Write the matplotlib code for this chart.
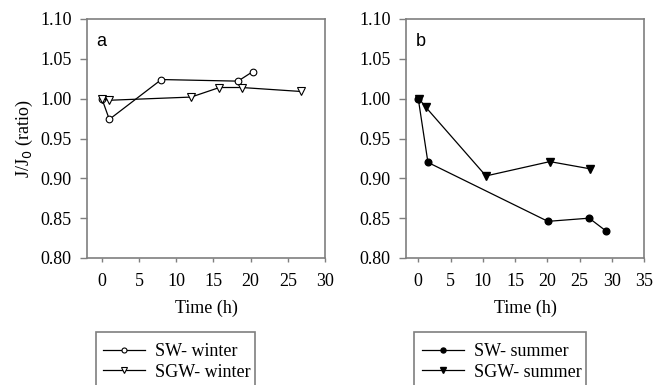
import matplotlib
matplotlib.use("Agg")
import matplotlib.pyplot as plt
from matplotlib.patches import Rectangle

# Data
sw_winter_t = [0, 1, 8, 18.3, 20.3]
sw_winter_y = [1.000, 0.974, 1.024, 1.022, 1.034]
sgw_winter_t = [0, 1, 12, 15.8, 18.8, 26.8]
sgw_winter_y = [1.000, 0.998, 1.002, 1.014, 1.014, 1.009]

sw_summer_t = [0, 1.5, 20.1, 26.5, 29.1]
sw_summer_y = [1.000, 0.920, 0.846, 0.850, 0.834]
sgw_summer_t = [0.1, 1.2, 10.5, 20.4, 26.6]
sgw_summer_y = [1.000, 0.989, 0.903, 0.921, 0.912]

yticks = [0.80, 0.85, 0.90, 0.95, 1.00, 1.05, 1.10]
xticks_a = [0, 5, 10, 15, 20, 25, 30]
xticks_b = [0, 5, 10, 15, 20, 25, 30, 35]

W, H = 654, 385
fig = plt.figure(figsize=(W/100, H/100), dpi=100)
serif = "Liberation Serif"
sans = "Liberation Sans"
spine_col = "#7f7f7f"
fs = 13

def px_axes(l, t, r, b):
    return fig.add_axes([l/W, 1-b/H, (r-l)/W, (b-t)/H])

ax1 = px_axes(87, 19, 325, 258)
ax2 = px_axes(406, 19, 644, 258)

def style(ax, xlim, xticks, letter):
    ax.set_xlim(*xlim)
    ax.set_ylim(0.80, 1.10)
    ax.set_xticks(xticks)
    ax.set_yticks(yticks)
    ax.set_yticklabels([f"{v:.2f}" for v in yticks])
    for s in ax.spines.values():
        s.set_color(spine_col)
        s.set_linewidth(1.2)
    ax.tick_params(axis="y", direction="out", length=5, width=1, color=spine_col,
                   labelsize=fs, pad=6)
    ax.tick_params(axis="x", direction="out", length=3, width=1, color=spine_col,
                   labelsize=fs, pad=8)
    for lab in ax.get_xticklabels() + ax.get_yticklabels():
        lab.set_fontfamily(serif)
    ax.text(0.04, 0.905, letter, transform=ax.transAxes, fontsize=fs,
            fontfamily=sans, va="center", ha="left")
    ax.set_xlabel("Time (h)", fontsize=fs, fontfamily=serif, labelpad=7)

style(ax1, (-2, 30), xticks_a, "a")
style(ax2, (-1.9, 35), xticks_b, "b")
ax1.set_ylabel("J/J$_0$ (ratio)", fontsize=fs, fontfamily=serif, labelpad=4)

lw = 0.9
l1, = ax1.plot(sw_winter_t, sw_winter_y, color="black", lw=lw, marker="o",
               ms=4.8, mfc="white", mec="black", mew=0.8, label="SW- winter")
l2, = ax1.plot(sgw_winter_t, sgw_winter_y, color="black", lw=lw, marker="v",
               ms=5.5, mfc="white", mec="black", mew=0.8, label="SGW- winter")
l3, = ax2.plot(sw_summer_t, sw_summer_y, color="black", lw=lw, marker="o",
               ms=4.8, mfc="black", mec="black", label="SW- summer")
l4, = ax2.plot(sgw_summer_t, sgw_summer_y, color="black", lw=lw, marker="v",
               ms=5.5, mfc="black", mec="black", label="SGW- summer")

# legend boxes (extend below the figure edge)
for (x0, x1) in [(96, 255), (414, 586)]:
    fig.patches.append(Rectangle((x0/W, -0.05), (x1-x0)/W, 0.05 + 1-332/H,
                                 transform=fig.transFigure, fill=False,
                                 edgecolor=spine_col, lw=1.2))

leg_kw = dict(frameon=False, loc="upper left", handlelength=2.3,
              handletextpad=0.6, labelspacing=0.2, borderaxespad=0,
              borderpad=0, prop={"family": serif, "size": fs}, markerscale=0.75)
fig.legend(handles=[l1, l2], bbox_to_anchor=(103/W, 1-343/H), **leg_kw)
fig.legend(handles=[l3, l4], bbox_to_anchor=(422/W, 1-343/H), **leg_kw)

fig.savefig("out.png", dpi=100)
